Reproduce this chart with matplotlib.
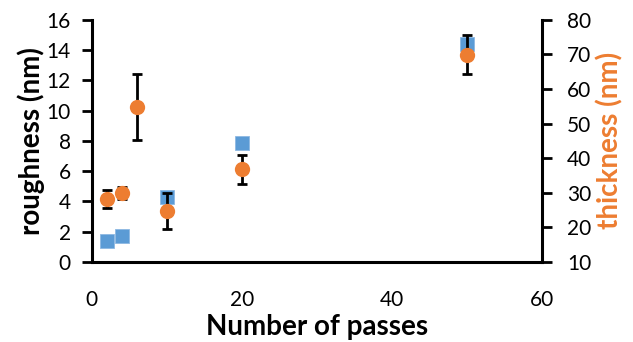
import matplotlib
matplotlib.use("Agg")
import matplotlib.pyplot as plt

plt.rcParams["font.family"] = ["Lato", "DejaVu Sans"]

# surface roughness and film thickness vs number of passes
passes = [2, 4, 6, 10, 20, 50]
rough_passes = [2, 4, 10, 20, 50]
roughness = [1.4, 1.7, 4.3, 7.85, 14.4]
thickness = [28.2, 29.9, 54.8, 24.8, 36.8, 69.9]
thickness_err = [2.7, 1.7, 9.4, 5.2, 4.2, 5.6]

blue = "#5B9BD5"
orange = "#ED7D31"

fig = plt.figure(figsize=(6.33, 3.42), dpi=100)
ax = fig.add_axes([0.145, 0.234, 0.711, 0.708])
ax2 = ax.twinx()

ax.plot(rough_passes, roughness, linestyle="none", marker="s", markersize=9.5,
        color=blue, markeredgecolor="#8DB8E3", markeredgewidth=0.6, zorder=3)

ax2.errorbar(passes, thickness, yerr=thickness_err, fmt="none", ecolor="black",
             elinewidth=2, capsize=3.5, capthick=2, zorder=2)
ax2.plot(passes, thickness, linestyle="none", marker="o", markersize=11,
         color=orange, markeredgewidth=0, zorder=3)

ax.set_xlim(0, 60)
ax.set_ylim(0, 16)
ax2.set_ylim(10, 80)
ax.set_xticks([0, 20, 40, 60])
ax.set_yticks(range(0, 17, 2))
ax2.set_yticks(range(10, 81, 10))

for a in (ax, ax2):
    a.spines["top"].set_visible(False)
    for s in a.spines.values():
        s.set_linewidth(2.2)
ax.spines["right"].set_visible(False)
ax2.spines["left"].set_visible(False)
ax2.spines["bottom"].set_visible(False)

ax.tick_params(axis="x", length=0, pad=20, labelsize=15)
ax.tick_params(axis="y", direction="out", length=7, width=2, pad=8, labelsize=15)
ax2.tick_params(axis="y", direction="out", length=7, width=2, pad=11, labelsize=15)

ax.set_xlabel("Number of passes", fontsize=20, fontweight="bold", labelpad=3)
ax.set_ylabel("roughness (nm)", fontsize=20, fontweight="bold", labelpad=1)
ax2.set_ylabel("thickness (nm)", fontsize=20, fontweight="bold", color=orange,
               labelpad=4)

fig.savefig("out.png", dpi=100)
